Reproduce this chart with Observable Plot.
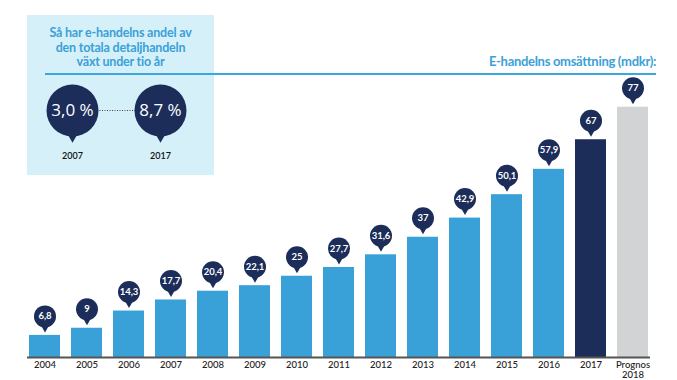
<!DOCTYPE html>
<html>
<head>
<meta charset="utf-8">
<script src="https://cdn.jsdelivr.net/npm/d3@7"></script>
<script src="https://cdn.jsdelivr.net/npm/@observablehq/plot@0.6"></script>
<style>
  html, body { margin: 0; padding: 0; background: #fff; }
  #wrap { position: relative; width: 677px; height: 380px; overflow: hidden; font-family: Lato, "Open Sans", sans-serif; }
  #box { position: absolute; left: 27px; top: 15px; width: 187px; height: 160px; }
  #boxTitle { position: absolute; left: 27px; top: 26px; width: 187px; text-align: center; color: #3aa1d8;
    font-weight: 700; font-size: 12.5px; line-height: 14.5px; letter-spacing: -0.2px; }
  #main { position: absolute; left: 0; top: 0; }
  #topRule { position: absolute; left: 45px; width: 611px; top: 73px; height: 2px; background: #3aa8dc; }
  #rightTitle { position: absolute; right: 21px; top: 53px; color: #3aa1d8; font-weight: 700; font-size: 13px; letter-spacing: -0.3px; }
</style>
</head>
<body>
<div id="wrap">
  <div id="box"></div>
  <div id="boxTitle">Så har e-handelns andel av<br>den totala detaljhandeln<br>växt under tio år</div>
  <div id="main"></div>
  <div id="topRule"></div>
  <div id="rightTitle">E-handelns omsättning (mdkr):</div>
</div>
<script>
// ---- data ----
const years = ["2004","2005","2006","2007","2008","2009","2010","2011","2012","2013","2014","2015","2016","2017","Prognos\n2018"];
const values = [6.8, 9, 14.3, 17.7, 20.4, 22.1, 25, 27.7, 31.6, 37, 42.9, 50.1, 57.9, 67, 77];
const valueLabels = ["6,8","9","14,3","17,7","20,4","22,1","25","27,7","31,6","37","42,9","50,1","57,9","67","77"];
const barKinds = ["hist","hist","hist","hist","hist","hist","hist","hist","hist","hist","hist","hist","hist","current","forecast"];

const shareYears = ["2007", "2017"];
const shareLabels = ["3,0 %", "8,7 %"];

const NAVY = "#1c2d5a", BLUE = "#3aa1d8", GRAY = "#d1d3d4", LIGHT = "#d5f0f8";

const bars = years.map((y, i) => ({year: y, value: values[i], label: valueLabels[i], kind: barKinds[i]}));
const share = shareYears.map((y, i) => ({year: y, label: shareLabels[i]}));

// ---- share box plot ----
const boxPlot = Plot.plot({
  width: 187, height: 160,
  marginLeft: 44.7, marginRight: 53.3, marginTop: 60, marginBottom: 30,
  style: {background: LIGHT, fontFamily: "Lato, 'Open Sans', sans-serif", overflow: "visible"},
  x: {type: "point", domain: shareYears, padding: 0, label: null},
  marks: [
    Plot.axisX({tickSize: 0, tickPadding: 7, fontSize: 9, fill: "#111", fontWeight: 600, letterSpacing: -0.5}),
    Plot.ruleY([{}], {x1: () => shareYears[0], x2: () => shareYears[1], y: null, stroke: "#444", strokeWidth: 1, strokeDasharray: "1,1.5"}),
    Plot.dot(share, {x: "year", symbol: "triangle", r: 6, rotate: 180, dy: 23, fill: NAVY}),
    Plot.dot(share, {x: "year", r: 26, fill: NAVY}),
    Plot.text(share, {x: "year", text: "label", fill: "white", fontSize: 17, letterSpacing: -1, fontFamily: "'Open Sans', sans-serif"})
  ]
});
document.getElementById("box").appendChild(boxPlot);

// ---- main bar chart ----
const main = Plot.plot({
  width: 677, height: 380,
  marginLeft: 27, marginRight: 27, marginTop: 97, marginBottom: 23,
  style: {background: "transparent", fontFamily: "Lato, 'Open Sans', sans-serif", overflow: "visible"},
  x: {type: "band", domain: years, paddingInner: 0.26, paddingOuter: 0.045, label: null},
  y: {domain: [0, 80], axis: null},
  color: {domain: ["hist","current","forecast"], range: [BLUE, NAVY, GRAY]},
  marks: [
    Plot.barY(bars, {x: "year", y: "value", fill: "kind"}),
    Plot.ruleY([0], {stroke: "#555", strokeWidth: 2}),
    Plot.axisX({tickSize: 0, tickPadding: 3, fontSize: 9.5, fill: "#222", fontWeight: 500, letterSpacing: -0.4, lineHeight: 1.05}),
    Plot.dot(bars, {x: "year", y: "value", symbol: "triangle", r: 3.2, rotate: 180, dy: -8, fill: NAVY}),
    Plot.dot(bars, {x: "year", y: "value", r: 11, dy: -19, fill: NAVY}),
    Plot.text(bars, {x: "year", y: "value", text: "label", dy: -19, fill: "white", fontSize: 9.5, fontWeight: 700, letterSpacing: -0.5})
  ]
});
document.getElementById("main").appendChild(main);
</script>
</body>
</html>
